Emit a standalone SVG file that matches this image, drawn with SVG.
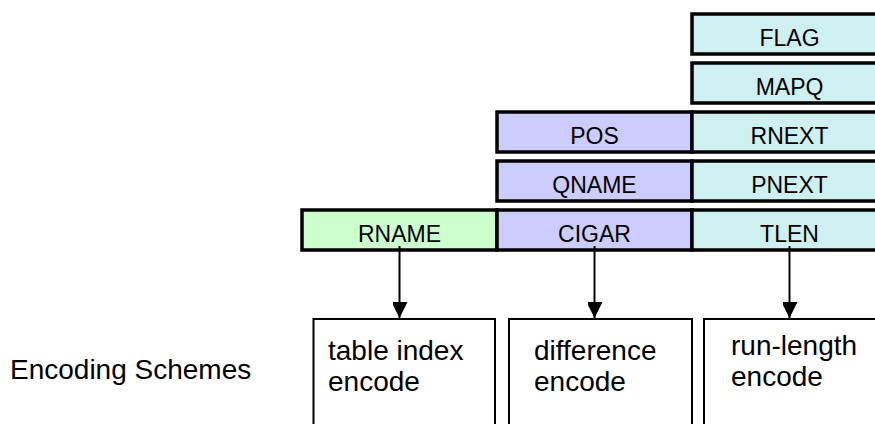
<svg xmlns="http://www.w3.org/2000/svg" width="875" height="424" viewBox="0 0 875 424">
  <style>
    .field { stroke: #000; stroke-width: 3.5; }
    .g { fill: #CCFFCC; }
    .p { fill: #CCCCFF; }
    .c { fill: #CFF0F0; }
    .lbl { font-family: "Liberation Sans", Arial, sans-serif; font-size: 23px; fill: #000; text-anchor: middle; }
    .scheme { fill: #fff; stroke: #000; stroke-width: 2; }
    .stxt { font-family: "Liberation Sans", Arial, sans-serif; font-size: 28px; fill: #000; }
    .conn { stroke: #000; stroke-width: 2; fill: none; }
  </style>
  <defs>
    <marker id="arrow" markerUnits="userSpaceOnUse" markerWidth="16" markerHeight="15" refX="16" refY="8" orient="auto">
      <path d="M0,0 L16,8 L0,16 Z" fill="#000"/>
    </marker>
  </defs>

  <!-- field columns -->
  <g id="FLAG"><rect class="field c" x="692" y="14" width="195" height="40"/><text class="lbl" x="789.5" y="46">FLAG</text></g>
  <g id="MAPQ"><rect class="field c" x="692" y="63" width="195" height="40"/><text class="lbl" x="789.5" y="95">MAPQ</text></g>
  <g id="POS"><rect class="field p" x="497" y="112" width="195" height="40"/><text class="lbl" x="594.5" y="144">POS</text></g>
  <g id="RNEXT"><rect class="field c" x="692" y="112" width="195" height="40"/><text class="lbl" x="789.5" y="144">RNEXT</text></g>
  <g id="QNAME"><rect class="field p" x="497" y="161" width="195" height="40"/><text class="lbl" x="594.5" y="193">QNAME</text></g>
  <g id="PNEXT"><rect class="field c" x="692" y="161" width="195" height="40"/><text class="lbl" x="789.5" y="193">PNEXT</text></g>
  <g id="RNAME"><rect class="field g" x="302" y="210" width="195" height="40"/><text class="lbl" x="399.5" y="242">RNAME</text></g>
  <g id="CIGAR"><rect class="field p" x="497" y="210" width="195" height="40"/><text class="lbl" x="594.5" y="242">CIGAR</text></g>
  <g id="TLEN"><rect class="field c" x="692" y="210" width="195" height="40"/><text class="lbl" x="789.5" y="242">TLEN</text></g>

  <!-- encoding schemes -->
  <g id="label"><text class="stxt" x="10" y="379" font-size="32">Encoding Schemes</text></g>
  <g id="tableIndex"><rect class="scheme" x="313.5" y="319" width="181.5" height="130"/>
    <text class="stxt" x="328" y="360">table index</text><text class="stxt" x="328" y="391">encode</text></g>
  <g id="difference"><rect class="scheme" x="509" y="319" width="183" height="130"/>
    <text class="stxt" x="534" y="360">difference</text><text class="stxt" x="534" y="391">encode</text></g>
  <g id="runLength"><rect class="scheme" x="704" y="319" width="200" height="130"/>
    <text class="stxt" x="731" y="355">run-length</text><text class="stxt" x="731" y="386">encode</text></g>

  <!-- connectors -->
  <g id="connectors">
    <line class="conn" x1="399.5" y1="246" x2="399.5" y2="318" marker-end="url(#arrow)"/>
    <line class="conn" x1="594.5" y1="246" x2="594.5" y2="318" marker-end="url(#arrow)"/>
    <line class="conn" x1="789.5" y1="246" x2="789.5" y2="318" marker-end="url(#arrow)"/>
  </g>
</svg>
